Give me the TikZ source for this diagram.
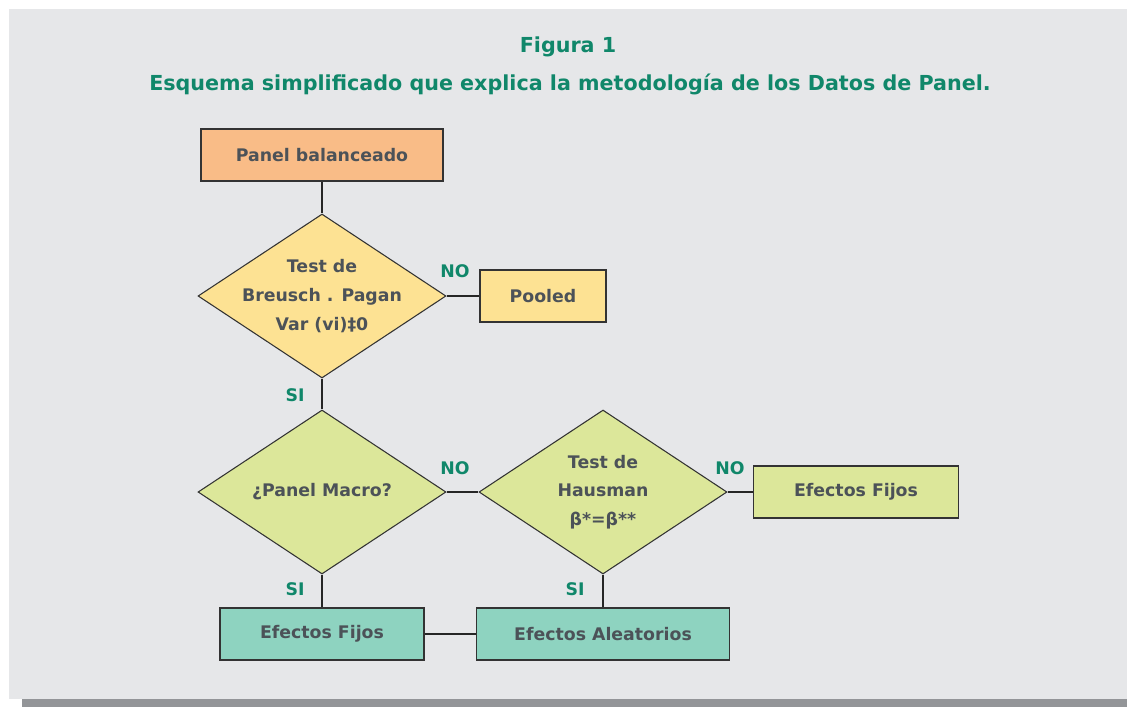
\documentclass[tikz,border=0pt]{standalone}
\usepackage{fontspec}
\setmainfont{DejaVu Sans}
\usetikzlibrary{shapes.geometric}
\definecolor{fondo}{HTML}{E6E7E9}
\definecolor{sombra}{HTML}{939598}
\definecolor{verde}{HTML}{10876A}
\definecolor{texto}{HTML}{4C5258}
\definecolor{naranja}{HTML}{F9BC87}
\definecolor{amarillo}{HTML}{FDE293}
\definecolor{lima}{HTML}{DCE79A}
\definecolor{turquesa}{HTML}{8ED3C0}

\begin{document}
\begin{tikzpicture}[x=0.75pt,y=-0.75pt]
		\tikzset{
			caja/.style ={
				rectangle, %caja rectangular
				minimum height =39pt, %altura minima
				inner sep=3pt, %distancia texto-borde
				draw=black!80, %color del borde
				line width=1pt,
				text=texto,
				font=\bfseries\fontsize{13}{16}\selectfont
			},
			rombo/.style ={
				diamond, %rombo de decision
				aspect=1.5,
				minimum width =186pt, %ancho minimo
				minimum height =123pt, %alto minimo
				inner sep=-20pt, %el tamano lo fija el minimo
				draw=black!80,
				line width=0.8pt,
				text=texto,
				align=center,
				font=\bfseries\fontsize{13}{21.5}\selectfont
			},
			etiq/.style ={
				text=verde,
				font=\bfseries\fontsize{13}{16}\selectfont
			},
			linea/.style ={
				draw=black!85,
				line width=1.2pt
			}
		}
		\useasboundingbox (0,0) rectangle (1127,707);
		\fill[fondo] (9,9) rectangle (1127,699);
		\fill[sombra] (22,699) rectangle (1127,707);
		% titulo
		\node[text=verde,font=\bfseries\fontsize{15.5}{19}\selectfont] (t1) at(568,47){Figura 1};
		\node[text=verde,font=\bfseries\fontsize{15.5}{19}\selectfont] (t2) at(570,84){Esquema simplificado que explica la metodología de los Datos de Panel.};
		% nodos
		\node[caja,fill=naranja,minimum width=181.5pt] (1) at(322,155){Panel balanceado};
		\node[rombo,fill=amarillo] (2) at(322,296){Test de\\Breusch . Pagan\\Var (vi)‡0};
		\node[caja,fill=amarillo,minimum width=94.5pt] (3) at(543,296){Pooled};
		\node[rombo,fill=lima] (4) at(322,492){¿Panel Macro?};
		\node[rombo,fill=lima] (5) at(603,492){Test de\\Hausman\\β*=β**};
		\node[caja,fill=lima,minimum width=153.75pt] (6) at(856,492){Efectos Fijos};
		\node[caja,fill=turquesa,minimum width=153pt] (7) at(322,634){Efectos Fijos};
		\node[caja,fill=turquesa,minimum width=189.75pt] (8) at(603,634){Efectos Aleatorios};
		% etiquetas
		\node[etiq] (n1) at(455,271){NO};
		\node[etiq] (s1) at(295,395){SI};
		\node[etiq] (n2) at(455,468){NO};
		\node[etiq] (n3) at(730,468){NO};
		\node[etiq] (s2) at(295,589){SI};
		\node[etiq] (s3) at(575,589){SI};
		% conectores
		\draw[linea] (1)--(2);
		\draw[linea] (2)--(3);
		\draw[linea] (2)--(4);
		\draw[linea] (4)--(5);
		\draw[linea] (5)--(6);
		\draw[linea] (4)--(7);
		\draw[linea] (5)--(8);
		\draw[linea] (7)--(8);
	\end{tikzpicture}
\end{document}
